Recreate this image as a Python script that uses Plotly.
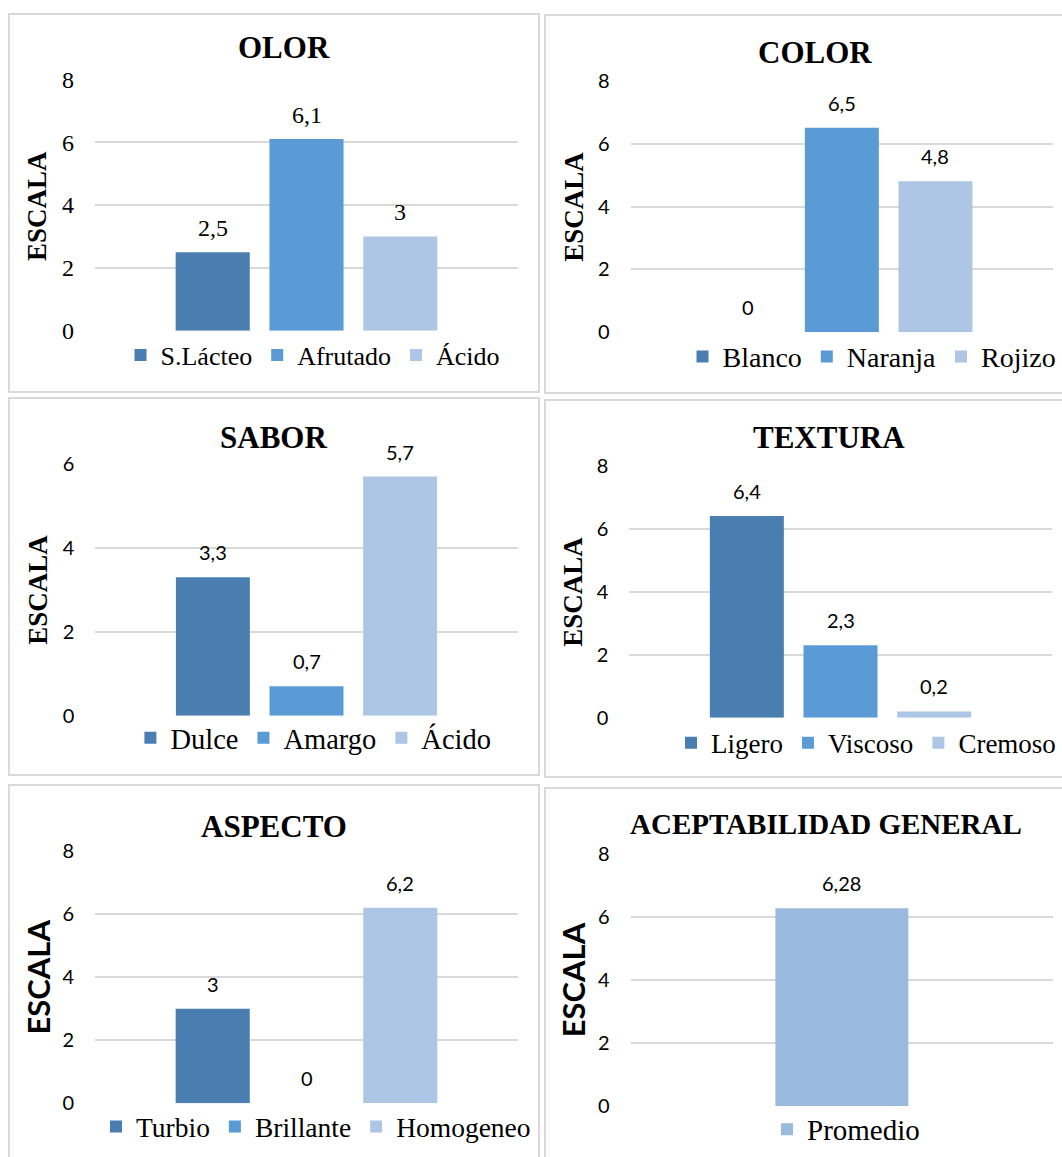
import plotly.graph_objects as go

# ---- data -------------------------------------------------------------
OLOR_CATS = ["S.Lácteo", "Afrutado", "Ácido"]
OLOR_VALS = [2.5, 6.1, 3]

COLOR_CATS = ["Blanco", "Naranja", "Rojizo"]
COLOR_VALS = [0, 6.5, 4.8]

SABOR_CATS = ["Dulce", "Amargo", "Ácido"]
SABOR_VALS = [3.3, 0.7, 5.7]

TEXTURA_CATS = ["Ligero", "Viscoso", "Cremoso"]
TEXTURA_VALS = [6.4, 2.3, 0.2]

ASPECTO_CATS = ["Turbio", "Brillante", "Homogeneo"]
ASPECTO_VALS = [3, 0, 6.2]

ACEPT_CATS = ["Promedio"]
ACEPT_VALS = [6.28]

TICKS_8 = [0, 2, 4, 6, 8]
TICKS_6 = [0, 2, 4, 6]
Y_LABEL = "ESCALA"

# ---- styling ------------------------------------------------------------
W, H = 1062, 1157
SERIF = "Liberation Serif, Times New Roman, serif"
SANS = "Lato, Carlito, Calibri, sans-serif"
PALETTE = ["#4A7EB0", "#5B9BD5", "#ADC6E6"]
PROMEDIO_COLOR = "#9AB9DF"
GRID = "#D9D9D9"
BORDER = "#D9D9D9"
SLOT_MARGIN = 1.255   # empty space at each side of the cluster, in bar slots
BAR_WIDTH = 0.79      # bar width as a fraction of its slot


def fx(px):
    return px / W


def fy(py):
    return 1 - py / H


def fmt(v):
    return f"{v:g}".replace(".", ",")


panels = [
    dict(title="OLOR", cats=OLOR_CATS, vals=OLOR_VALS, ticks=TICKS_8,
         colors=PALETTE, box=(9, 14, 539, 392), plot=(95, 79.3, 518, 330.7),
         title_xy=(284, 47.5), title_size=31,
         ylab_xy=(37, 206), ylab_font=SERIF, ylab_size=27,
         tick_font=SERIF, tick_size=24, lab_font=SERIF, lab_size=24, lab_shift=24,
         leg_xy=(313, 355), leg_size=26),
    dict(title="COLOR", cats=COLOR_CATS, vals=COLOR_VALS, ticks=TICKS_8,
         colors=PALETTE, box=(545, 15, 1080, 393), plot=(630.7, 80.7, 1053, 332.3),
         title_xy=(814.7, 52.5), title_size=31,
         ylab_xy=(574, 206.7), ylab_font=SERIF, ylab_size=27,
         tick_font=SANS, tick_size=20, lab_font=SANS, lab_size=20, lab_shift=25,
         leg_xy=(872, 356.7), leg_size=28),
    dict(title="SABOR", cats=SABOR_CATS, vals=SABOR_VALS, ticks=TICKS_6,
         colors=PALETTE, box=(9, 398, 539, 775), plot=(95.4, 464, 517.6, 715.7),
         title_xy=(273.8, 437.5), title_size=31,
         ylab_xy=(37.8, 590), ylab_font=SERIF, ylab_size=27,
         tick_font=SANS, tick_size=20, lab_font=SANS, lab_size=20, lab_shift=25,
         leg_xy=(313.4, 738.3), leg_size=28.5),
    dict(title="TEXTURA", cats=TEXTURA_CATS, vals=TEXTURA_VALS, ticks=TICKS_8,
         colors=PALETTE, box=(545, 400, 1080, 777), plot=(629.3, 465.7, 1051.7, 717.7),
         title_xy=(829, 437.5), title_size=31,
         ylab_xy=(573, 591.7), ylab_font=SERIF, ylab_size=27,
         tick_font=SANS, tick_size=20, lab_font=SANS, lab_size=20, lab_shift=25,
         leg_xy=(866, 743.3), leg_size=27),
    dict(title="ASPECTO", cats=ASPECTO_CATS, vals=ASPECTO_VALS, ticks=TICKS_8,
         colors=PALETTE, box=(9, 785, 539, 1175), plot=(95, 851, 518, 1103.3),
         title_xy=(273.8, 826), title_size=31,
         ylab_xy=(37, 977.5), ylab_font=SANS, ylab_size=31,
         tick_font=SANS, tick_size=20, lab_font=SANS, lab_size=20, lab_shift=25,
         leg_xy=(316, 1126.7), leg_size=27.5),
    dict(title="ACEPTABILIDAD GENERAL", cats=ACEPT_CATS, vals=ACEPT_VALS, ticks=TICKS_8,
         colors=[PROMEDIO_COLOR], box=(545, 788, 1080, 1175), plot=(630.7, 854, 1053, 1106),
         title_xy=(825.7, 823.7), title_size=29,
         ylab_xy=(573.3, 980), ylab_font=SANS, ylab_size=31,
         tick_font=SANS, tick_size=20, lab_font=SANS, lab_size=20, lab_shift=25,
         leg_xy=(846, 1129.3), leg_size=29),
]

fig = go.Figure()
layout = dict(
    width=W, height=H, autosize=False,
    margin=dict(l=0, r=0, t=0, b=0, pad=0, autoexpand=False),
    paper_bgcolor="white", plot_bgcolor="rgba(0,0,0,0)",
    barmode="overlay", showlegend=True,
    shapes=[], annotations=[],
)

for k, p in enumerate(panels, start=1):
    sfx = "" if k == 1 else str(k)
    xa, ya = f"x{sfx}", f"y{sfx}"
    leg = f"legend{sfx}"
    n = len(p["cats"])

    for cat, val, col in zip(p["cats"], p["vals"], p["colors"]):
        fig.add_trace(go.Bar(
            x=[cat], y=[val], width=[BAR_WIDTH], name=cat,
            marker=dict(color=col, line=dict(width=0)),
            xaxis=xa, yaxis=ya, legend=leg, hoverinfo="skip",
        ))
        # value label above each bar
        layout["annotations"].append(dict(
            x=cat, y=val, xref=xa, yref=ya, text=fmt(val), showarrow=False,
            xanchor="center", yanchor="middle", yshift=p["lab_shift"],
            font=dict(family=p["lab_font"], size=p["lab_size"], color="black"),
        ))

    x0, y0, x1, y1 = p["plot"]
    layout[f"xaxis{sfx}"] = dict(
        domain=[fx(x0), fx(x1)], anchor=ya, type="category",
        categoryorder="array", categoryarray=p["cats"],
        range=[-SLOT_MARGIN, n - 1 + SLOT_MARGIN],
        showticklabels=False, showgrid=False, zeroline=False, showline=False,
        ticks="", fixedrange=True,
    )
    layout[f"yaxis{sfx}"] = dict(
        domain=[fy(y1), fy(y0)], anchor=xa,
        range=[0, max(p["ticks"])], tickvals=p["ticks"],
        showgrid=True, gridcolor=GRID, gridwidth=1.5,
        zeroline=False, showline=False, ticks="", ticklabelstandoff=20,
        tickfont=dict(family=p["tick_font"], size=p["tick_size"], color="black"),
        fixedrange=True,
    )

    layout[leg] = dict(
        orientation="h", x=fx(p["leg_xy"][0]), y=fy(p["leg_xy"][1]),
        xanchor="center", yanchor="middle", bgcolor="rgba(0,0,0,0)",
        font=dict(family=SERIF, size=p["leg_size"], color="black"),
        traceorder="normal",
    )

    # panel frame
    bx0, by0, bx1, by1 = p["box"]
    layout["shapes"].append(dict(
        type="rect", xref="paper", yref="paper",
        x0=fx(bx0), x1=fx(bx1), y0=fy(by1), y1=fy(by0),
        line=dict(color=BORDER, width=2), fillcolor="rgba(0,0,0,0)", layer="below",
    ))

    layout["annotations"].append(dict(
        x=fx(p["title_xy"][0]), y=fy(p["title_xy"][1]), xref="paper", yref="paper",
        text=f"<b>{p['title']}</b>", showarrow=False, xanchor="center", yanchor="middle",
        font=dict(family=SERIF, size=p["title_size"], color="black"),
    ))
    layout["annotations"].append(dict(
        x=fx(p["ylab_xy"][0]), y=fy(p["ylab_xy"][1]), xref="paper", yref="paper",
        text=f"<b>{Y_LABEL}</b>", showarrow=False, textangle=-90,
        xanchor="center", yanchor="middle",
        font=dict(family=p["ylab_font"], size=p["ylab_size"], color="black"),
    ))

fig.update_layout(**layout)
fig.write_html("out.html")
